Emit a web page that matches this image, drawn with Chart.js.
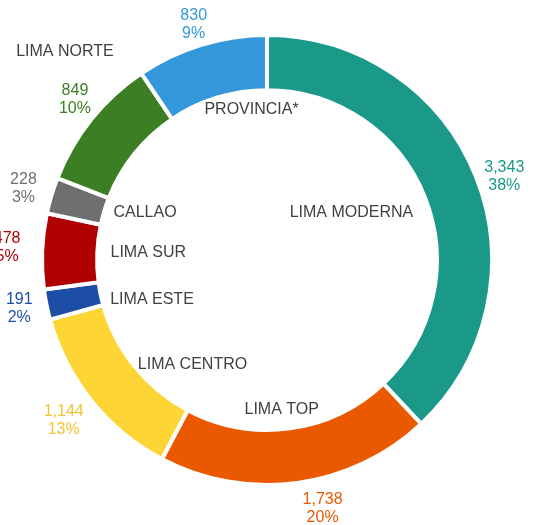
<!DOCTYPE html>
<html>
<head>
<meta charset="utf-8">
<script src="https://cdn.jsdelivr.net/npm/chart.js@4.4.0/dist/chart.umd.min.js"></script>
<style>
    html, body { margin: 0; padding: 0; background: #fff; }
</style>
</head>
<body>
<canvas id="myChart" width="539" height="525"></canvas>
<script>
const zones = ['LIMA MODERNA', 'LIMA TOP', 'LIMA CENTRO', 'LIMA ESTE', 'LIMA SUR', 'CALLAO', 'LIMA NORTE', 'PROVINCIA*'];
const counts = [3343, 1738, 1144, 191, 478, 228, 849, 830];
const sliceColors = ['#1a9988', '#ea5800', '#fdd535', '#1d4ea5', '#b00000', '#6f6f6f', '#3b7e23', '#3598db'];
const valueColors = ['#1a9988', '#ea5800', '#f2c531', '#1d4ea5', '#b00000', '#6f6f6f', '#3b7e23', '#3598db'];

// hand tweaks so labels sit where the original ones were dragged
const valueNudge = [[0, 11], [22, 0], [-3, 0], [-6, 0], [-16, -3], [-6, 0], [6, -2], [0, 5]];
const nameNudge = [[-8, -11], [-5, 4], [13, 34], [0, 16], [3, -3], [0, -11], [-10, -48], [25, -18]];

const FONT = '16px "Liberation Sans", Arial, sans-serif';

const sliceLabels = {
    id: 'sliceLabels',
    afterDatasetsDraw(chart) {
        const ctx = chart.ctx;
        const arcs = chart.getDatasetMeta(0).data;
        const total = counts.reduce((a, b) => a + b, 0);

        ctx.save();
        ctx.font = FONT;
        ctx.textAlign = 'center';
        ctx.textBaseline = 'middle';

        arcs.forEach((arc, i) => {
            const p = arc.getProps(['x', 'y', 'startAngle', 'endAngle', 'innerRadius', 'outerRadius'], true);
            const mid = (p.startAngle + p.endAngle) / 2;
            const dx = Math.cos(mid), dy = Math.sin(mid);

            // value + percent outside the ring
            const line1 = counts[i].toLocaleString('en-US');
            const line2 = Math.round(counts[i] / total * 100) + '%';
            const halfW = Math.max(ctx.measureText(line1).width, ctx.measureText(line2).width) / 2;
            const rOut = p.outerRadius + 5 + Math.abs(dx) * halfW + Math.abs(dy) * 18;
            const vx = p.x + dx * rOut + valueNudge[i][0];
            const vy = p.y + dy * rOut + valueNudge[i][1];
            ctx.fillStyle = valueColors[i];
            ctx.fillText(line1, vx, vy - 9);
            ctx.fillText(line2, vx, vy + 9);

            // zone name inside the hole (LIMA NORTE sits above its value)
            ctx.fillStyle = '#404040';
            if (zones[i] === 'LIMA NORTE') {
                ctx.fillText(zones[i], vx + nameNudge[i][0], vy + nameNudge[i][1]);
                return;
            }
            const nW = ctx.measureText(zones[i]).width / 2;
            const rIn = p.innerRadius - 10 - Math.abs(dx) * nW - Math.abs(dy) * 8;
            ctx.fillText(zones[i], p.x + dx * rIn + nameNudge[i][0], p.y + dy * rIn + nameNudge[i][1]);
        });
        ctx.restore();
    }
};

const ctx = document.getElementById('myChart').getContext('2d');
new Chart(ctx, {
    type: 'doughnut',
    data: {
        labels: zones,
        datasets: [{
            data: counts,
            backgroundColor: sliceColors,
            borderColor: '#ffffff',
            borderWidth: 4,
            hoverOffset: 0
        }]
    },
    options: {
        responsive: false,
        animation: false,
        cutout: '75.5%',
        layout: {
            padding: { left: 40, right: 45, top: 33, bottom: 38 }
        },
        plugins: {
            legend: { display: false },
            tooltip: { enabled: false }
        }
    },
    plugins: [sliceLabels]
});
</script>
</body>
</html>
